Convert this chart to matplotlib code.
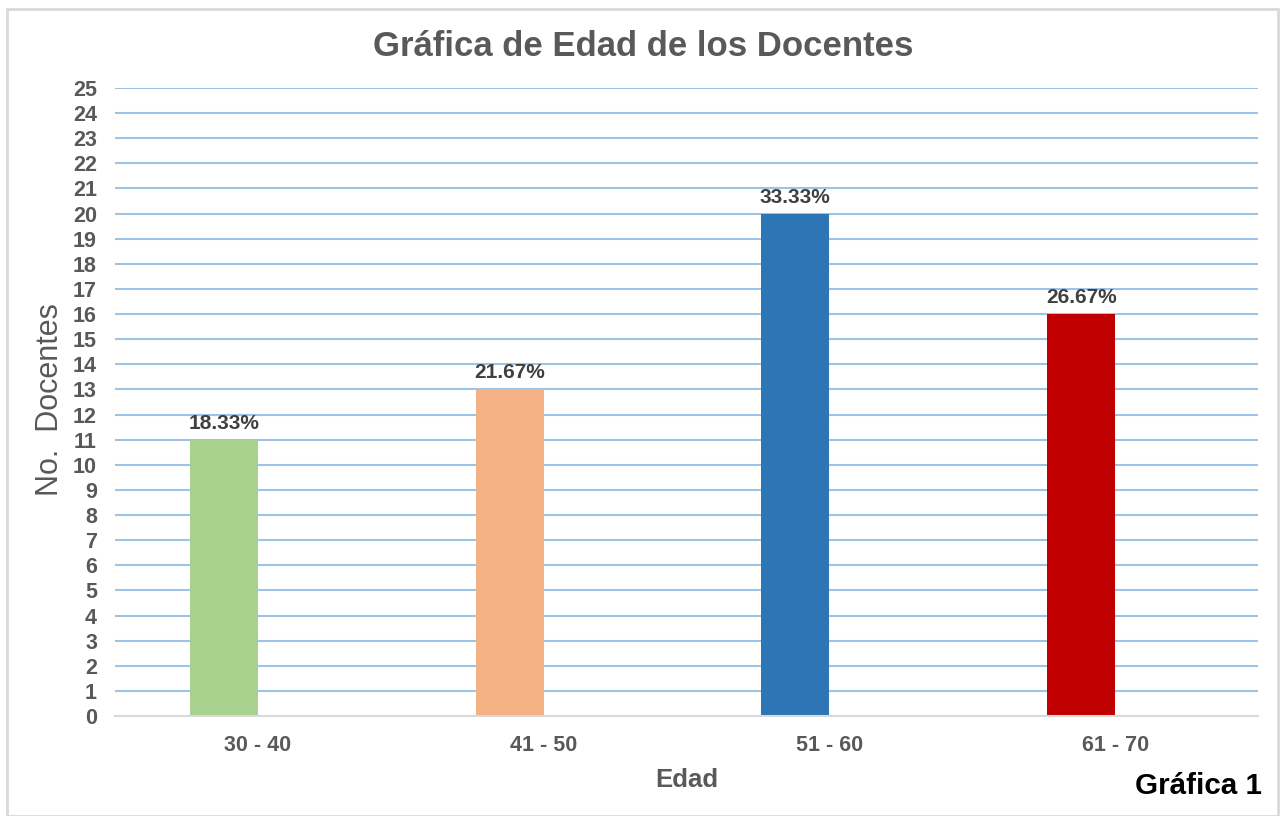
import matplotlib
matplotlib.use("Agg")
import matplotlib.pyplot as plt
from matplotlib.patches import Rectangle

categories = ["30 - 40", "41 - 50", "51 - 60", "61 - 70"]
values = [11, 13, 20, 16]
pct_labels = ["18.33%", "21.67%", "33.33%", "26.67%"]
colors = ["#A9D18E", "#F4B183", "#2E75B6", "#C00000"]
yticks = list(range(0, 26))

plt.rcParams['font.family'] = ['Liberation Sans', 'DejaVu Sans']

fig = plt.figure(figsize=(12.82, 8.16), dpi=100)
ax = fig.add_axes([115/1282, 1-716/816, (1258-115)/1282, (716-88)/816])

x = list(range(len(categories)))
offset = -0.119
width = 0.238
bx = [i + offset for i in x]
bars = ax.bar(bx, values, width=width, color=colors, zorder=3)

for b, lab in zip(bars, pct_labels):
    ax.annotate(lab, (b.get_x() + b.get_width()/2, b.get_height()),
                xytext=(0, 5), textcoords="offset points",
                ha="center", va="bottom", fontsize=15, fontweight="bold",
                color="#404040", zorder=4)

ax.set_xlim(-0.5, 3.5)
ax.set_ylim(0, 25)
ax.set_yticks(yticks)
ax.set_yticklabels([str(t) for t in yticks])
ax.set_xticks(x)
ax.set_xticklabels(categories)
ax.yaxis.grid(True, color="#9DC3E6", linewidth=1.5, zorder=0)
ax.set_axisbelow(True)
for s in ["top", "right", "left"]:
    ax.spines[s].set_visible(False)
ax.spines["bottom"].set_color("#D9D9D9")
ax.spines["bottom"].set_linewidth(1.5)
ax.spines["bottom"].set_zorder(5)
ax.tick_params(axis="y", length=0, pad=13, labelsize=15.5, labelcolor="#595959")
ax.tick_params(axis="x", length=0, pad=14, labelsize=15.5, labelcolor="#595959")
for t in ax.get_yticklabels() + ax.get_xticklabels():
    t.set_fontweight("bold")

fig.text(643/1282, 1-46/816, "Gráfica de Edad de los Docentes", ha="center", va="center",
         fontsize=25, fontweight="bold", color="#595959")
fig.text(687/1282, 1-780/816, "Edad", ha="center", va="center",
         fontsize=18.5, fontweight="bold", color="#595959")
fig.text(50/1282, 1-400/816, "No.  Docentes", ha="center", va="center", rotation=90,
         fontsize=22, color="#595959")
fig.text(1262/1282, 1-786/816, "Gráfica 1", ha="right", va="center",
         fontsize=21.3, fontweight="bold", color="black")

fig.patches.append(Rectangle((7/1282, 0), (1278-7)/1282, 1-9/816, transform=fig.transFigure,
                             fill=False, edgecolor="#D9D9D9", linewidth=2))

fig.savefig("out.png", dpi=100)
